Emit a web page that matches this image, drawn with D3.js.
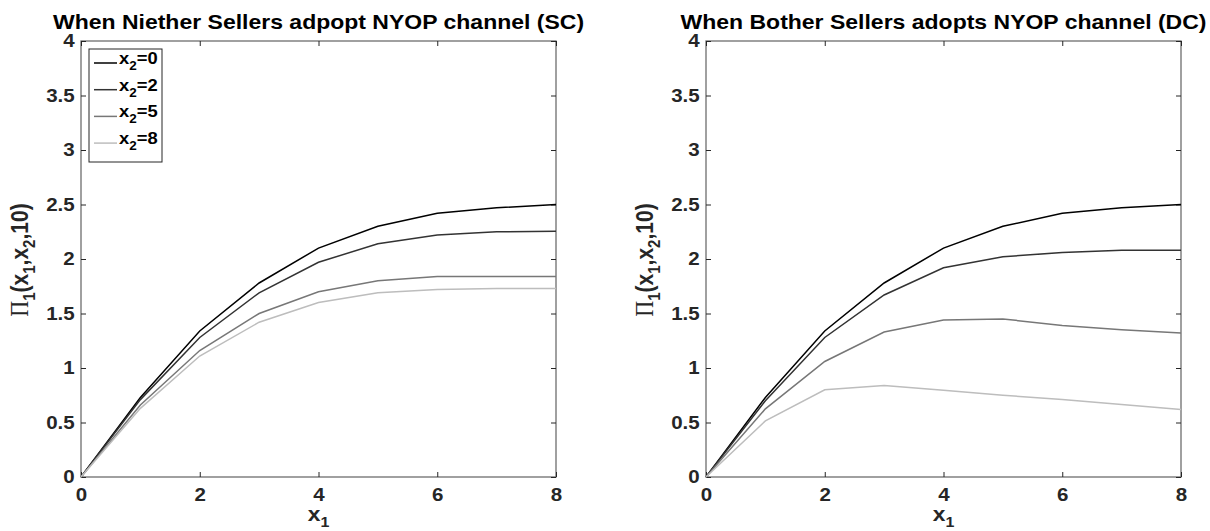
<!DOCTYPE html>
<html>
<head>
<meta charset="utf-8">
<script src="https://cdn.jsdelivr.net/npm/d3@7"></script>
<style>
    body { margin: 0; background: #fff; }
    svg { display: block; font-family: "Liberation Sans", Arial, sans-serif; }
</style>
</head>
<body>
<div id="chart"></div>
<script>
// data
const x1 = [0, 1, 2, 3, 4, 5, 6, 7, 8];
const seriesNames = ["x2=0", "x2=2", "x2=5", "x2=8"];

const sc0 = [0, 0.73, 1.34, 1.78, 2.10, 2.30, 2.42, 2.47, 2.50];
const sc2 = [0, 0.71, 1.28, 1.69, 1.97, 2.14, 2.22, 2.25, 2.255];
const sc5 = [0, 0.66, 1.16, 1.50, 1.70, 1.80, 1.84, 1.84, 1.84];
const sc8 = [0, 0.63, 1.11, 1.42, 1.60, 1.69, 1.72, 1.73, 1.73];

const dc0 = [0, 0.73, 1.34, 1.78, 2.10, 2.30, 2.42, 2.47, 2.50];
const dc2 = [0, 0.70, 1.28, 1.67, 1.92, 2.02, 2.06, 2.08, 2.08];
const dc5 = [0, 0.625, 1.06, 1.33, 1.44, 1.45, 1.39, 1.35, 1.32];
const dc8 = [0, 0.515, 0.80, 0.84, 0.795, 0.75, 0.71, 0.665, 0.62];

const xTicks = [0, 2, 4, 6, 8];
const yTicks = [0, 0.5, 1, 1.5, 2, 2.5, 3, 3.5, 4];

const titles = [
    "When Niether Sellers adpopt NYOP channel (SC)",
    "When Bother Sellers adopts NYOP channel (DC)"
];

const lineColors = ["#000000", "#333333", "#777777", "#bdbdbd"];
const axisColor = "#6e6e6e";
const textColor = "#262626";
const stretch = 1.14; // the original figure text is a bit wider than it is tall

const width = 1210, height = 531;
const plotTop = 41, plotBottom = 477;
const panels = [
    { left: 81, right: 556, series: [sc0, sc2, sc5, sc8], title: titles[0], legend: true },
    { left: 706, right: 1181, series: [dc0, dc2, dc5, dc8], title: titles[1], legend: false }
];

const svg = d3.select("#chart").append("svg")
    .attr("width", width)
    .attr("height", height);

const y = d3.scaleLinear().domain([0, 4]).range([plotBottom, plotTop]);

panels.forEach(p => {
    const x = d3.scaleLinear().domain([0, 8]).range([p.left, p.right]);
    const g = svg.append("g");

    // box
    g.append("rect")
        .attr("x", p.left).attr("y", plotTop)
        .attr("width", p.right - p.left).attr("height", plotBottom - plotTop)
        .attr("fill", "none").attr("stroke", axisColor).attr("stroke-width", 1.3);

    // axes with inward ticks
    const styleAxis = sel => {
        sel.select(".domain").remove();
        sel.selectAll(".tick line").attr("stroke", textColor).attr("stroke-width", 1);
        sel.selectAll(".tick text")
            .attr("fill", textColor)
            .attr("font-size", 18)
            .attr("font-weight", "bold")
            .attr("transform", `scale(${stretch},1)`);
    };
    g.append("g").attr("transform", `translate(0,${plotBottom})`)
        .call(d3.axisBottom(x).tickValues(xTicks).tickSizeInner(-5).tickSizeOuter(0).tickPadding(11).tickFormat(d3.format("d")))
        .call(styleAxis);
    g.append("g").attr("transform", `translate(0,${plotTop})`)
        .call(d3.axisTop(x).tickValues(xTicks).tickSizeInner(-5).tickSizeOuter(0).tickFormat(""))
        .call(styleAxis);
    g.append("g").attr("transform", `translate(${p.left},0)`)
        .call(d3.axisLeft(y).tickValues(yTicks).tickSizeInner(-5).tickSizeOuter(0).tickPadding(5.5).tickFormat(d => d))
        .call(styleAxis);
    g.append("g").attr("transform", `translate(${p.right},0)`)
        .call(d3.axisRight(y).tickValues(yTicks).tickSizeInner(-5).tickSizeOuter(0).tickFormat(""))
        .call(styleAxis);

    const line = d3.line().x((d, i) => x(x1[i])).y(d => y(d));
    g.selectAll(".series")
        .data(p.series)
        .enter()
        .append("path")
        .attr("d", line)
        .attr("fill", "none")
        .attr("stroke", (d, i) => lineColors[i])
        .attr("stroke-width", 1.5);

    // title
    g.append("text")
        .attr("transform", `translate(${(p.left + p.right) / 2},29) scale(1.15,1)`)
        .attr("text-anchor", "middle")
        .attr("font-size", 20)
        .attr("font-weight", "bold")
        .attr("fill", "#000")
        .text(p.title);

    // x label
    const xl = g.append("text")
        .attr("transform", `translate(${(p.left + p.right) / 2},521) scale(${stretch},1)`)
        .attr("text-anchor", "middle")
        .attr("font-size", 20)
        .attr("font-weight", "bold")
        .attr("fill", textColor);
    xl.append("tspan").text("x");
    xl.append("tspan").attr("dy", 6).attr("font-size", 14).text("1");

    // y label
    const yl = g.append("text")
        .attr("transform", `translate(${p.left - 53},${(plotTop + plotBottom) / 2 + 1}) rotate(-90) scale(1,${stretch})`)
        .attr("text-anchor", "middle")
        .attr("font-size", 21)
        .attr("font-weight", "bold")
        .attr("fill", textColor);
    yl.append("tspan").attr("font-family", "'Liberation Serif', 'DejaVu Serif', serif").attr("font-weight", "normal").attr("font-size", 22).text("\u03A0");
    yl.append("tspan").attr("dy", 6).attr("font-size", 15).text("1");
    yl.append("tspan").attr("dy", -6).text("(x");
    yl.append("tspan").attr("dy", 6).attr("font-size", 15).text("1");
    yl.append("tspan").attr("dy", -6).text(",x");
    yl.append("tspan").attr("dy", 6).attr("font-size", 15).text("2");
    yl.append("tspan").attr("dy", -6).text(",10)");

    // legend
    if (p.legend) {
        const lg = g.append("g");
        lg.append("rect")
            .attr("x", 89).attr("y", 49)
            .attr("width", 73).attr("height", 113)
            .attr("fill", "#fff").attr("stroke", textColor).attr("stroke-width", 1);
        const rows = lg.selectAll(".row")
            .data(seriesNames)
            .enter()
            .append("g")
            .attr("transform", (d, i) => `translate(0,${63 + i * 26.7})`);
        rows.append("line")
            .attr("x1", 94).attr("x2", 117)
            .attr("y1", 0).attr("y2", 0)
            .attr("stroke", (d, i) => lineColors[i])
            .attr("stroke-width", 1.5);
        const t = rows.append("text")
            .attr("transform", `translate(119,1) scale(1.08,1)`)
            .attr("font-size", 17)
            .attr("font-weight", "bold")
            .attr("fill", "#000");
        t.append("tspan").text("x");
        t.append("tspan").attr("dy", 6).attr("font-size", 12.5).text(d => d.split("=")[0].slice(1));
        t.append("tspan").attr("dy", -6).text(d => "=" + d.split("=")[1]);
    }
});
</script>
</body>
</html>
